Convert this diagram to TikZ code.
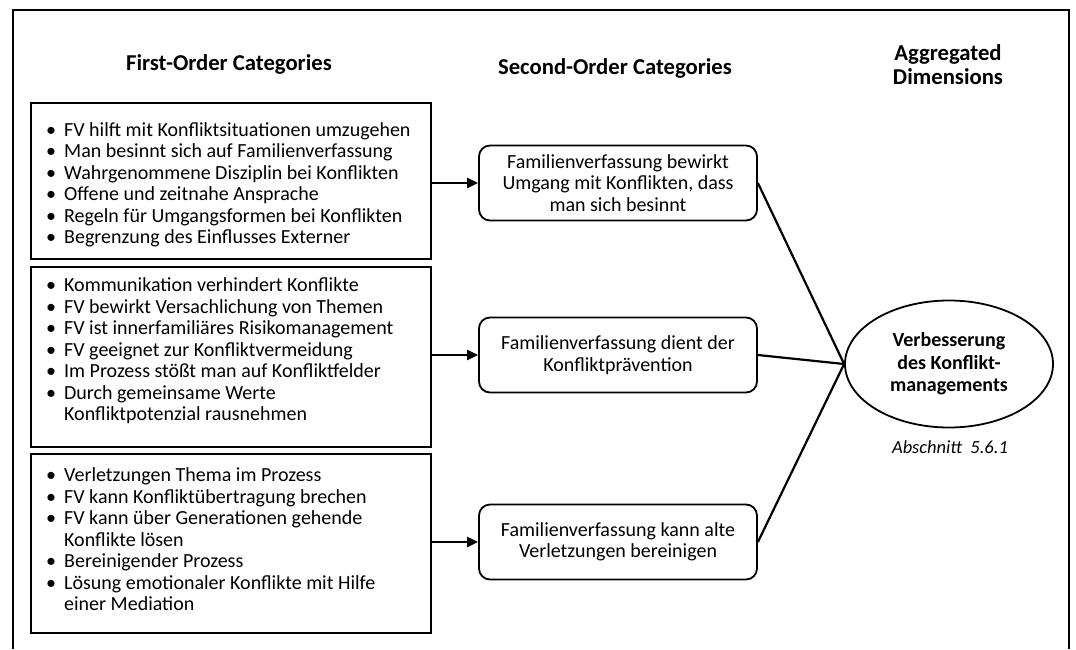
\documentclass[tikz,border=0pt]{standalone}
\usepackage{fontspec}
\setmainfont{Carlito}
\usetikzlibrary{arrows.meta,shapes.geometric}
\newcommand\itm[1]{\makebox[18pt][l]{\textbullet}#1}
\newcommand\cont[1]{\hspace*{18pt}#1}
\begin{document}
\begin{tikzpicture}[x=1pt,y=-1pt,
  every node/.style={font=\fontsize{20}{21.5}\selectfont},
  head/.style={font=\bfseries\fontsize{22.7}{24}\selectfont, align=center, anchor=base},
  catbox/.style={draw, line width=1.8pt, minimum width=400pt, anchor=north west, inner sep=0pt},
  cattext/.style={align=left, anchor=west, inner sep=0pt},
  midbox/.style={draw, line width=1.8pt, rounded corners=11pt, minimum width=278pt, minimum height=75pt, align=center, inner sep=0pt},
  dimnode/.style={draw, line width=1.8pt, ellipse, minimum width=208pt, minimum height=127pt, align=center, inner sep=0pt, font=\bfseries\fontsize{20}{22.5}\selectfont},
  feed/.style={line width=2.2pt, -{Triangle[length=11pt,width=10pt]}},
  link/.style={line width=2.2pt}
]
\useasboundingbox (0,0) rectangle (1076,649);

% open frame around the figure
\draw[line width=2.5pt] (13,649) -- (13,10) -- (1069,10) -- (1069,649);

% column headings
\node[head] (h1) at (229,70) {First-Order Categories};
\node[head] (h2) at (615,74) {Second-Order Categories};
\node[head] (h3) at (948,84) {Aggregated\\Dimensions};

% first-order categories
\node[catbox, minimum height=156pt] (b1) at (30,102) {};
\node[cattext] (t1) at ([xshift=16pt,yshift=-4pt]b1.west) {%
\itm{FV hilft mit Konfliktsituationen umzugehen}\\
\itm{Man besinnt sich auf Familienverfassung}\\
\itm{Wahrgenommene Disziplin bei Konflikten}\\
\itm{Offene und zeitnahe Ansprache}\\
\itm{Regeln für Umgangsformen bei Konflikten}\\
\itm{Begrenzung des Einflusses Externer}};

\node[catbox, minimum height=180pt] (b2) at (30,266) {};
\node[cattext] (t2) at ([xshift=16pt,yshift=6pt]b2.west) {%
\itm{Kommunikation verhindert Konflikte}\\
\itm{FV bewirkt Versachlichung von Themen}\\
\itm{FV ist innerfamiliäres Risikomanagement}\\
\itm{FV geeignet zur Konfliktvermeidung}\\
\itm{Im Prozess stößt man auf Konfliktfelder}\\
\itm{Durch gemeinsame Werte}\\
\cont{Konfliktpotenzial rausnehmen}};

\node[catbox, minimum height=179pt] (b3) at (30,453) {};
\node[cattext] (t3) at ([xshift=16pt,yshift=4pt]b3.west) {%
\itm{Verletzungen Thema im Prozess}\\
\itm{FV kann Konfliktübertragung brechen}\\
\itm{FV kann über Generationen gehende}\\
\cont{Konflikte lösen}\\
\itm{Bereinigender Prozess}\\
\itm{Lösung emotionaler Konflikte mit Hilfe}\\
\cont{einer Mediation}};

% second-order categories
\node[midbox] (m1) at (618,183) {Familienverfassung bewirkt\\Umgang mit Konflikten, dass\\man sich besinnt};
\node[midbox] (m2) at (618,355) {Familienverfassung dient der\\Konfliktprävention};
\node[midbox] (m3) at (618,542) {Familienverfassung kann alte\\Verletzungen bereinigen};

% aggregated dimension
\node[dimnode] (d) at (949,364) {Verbesserung\\des Konflikt-\\managements};
\node[font=\itshape\fontsize{18.5}{21}\selectfont] (sec) at (950,447) {Abschnitt~ 5.6.1};

% connectors
\draw[feed] (m1.west -| b1.east) -- (m1.west);
\draw[feed] (m2.west -| b2.east) -- (m2.west);
\draw[feed] (m3.west -| b3.east) -- (m3.west);
\draw[link] (m1.east) -- (d.west);
\draw[link] (m2.east) -- (d.west);
\draw[link] (m3.east) -- (d.west);
\end{tikzpicture}
\end{document}
